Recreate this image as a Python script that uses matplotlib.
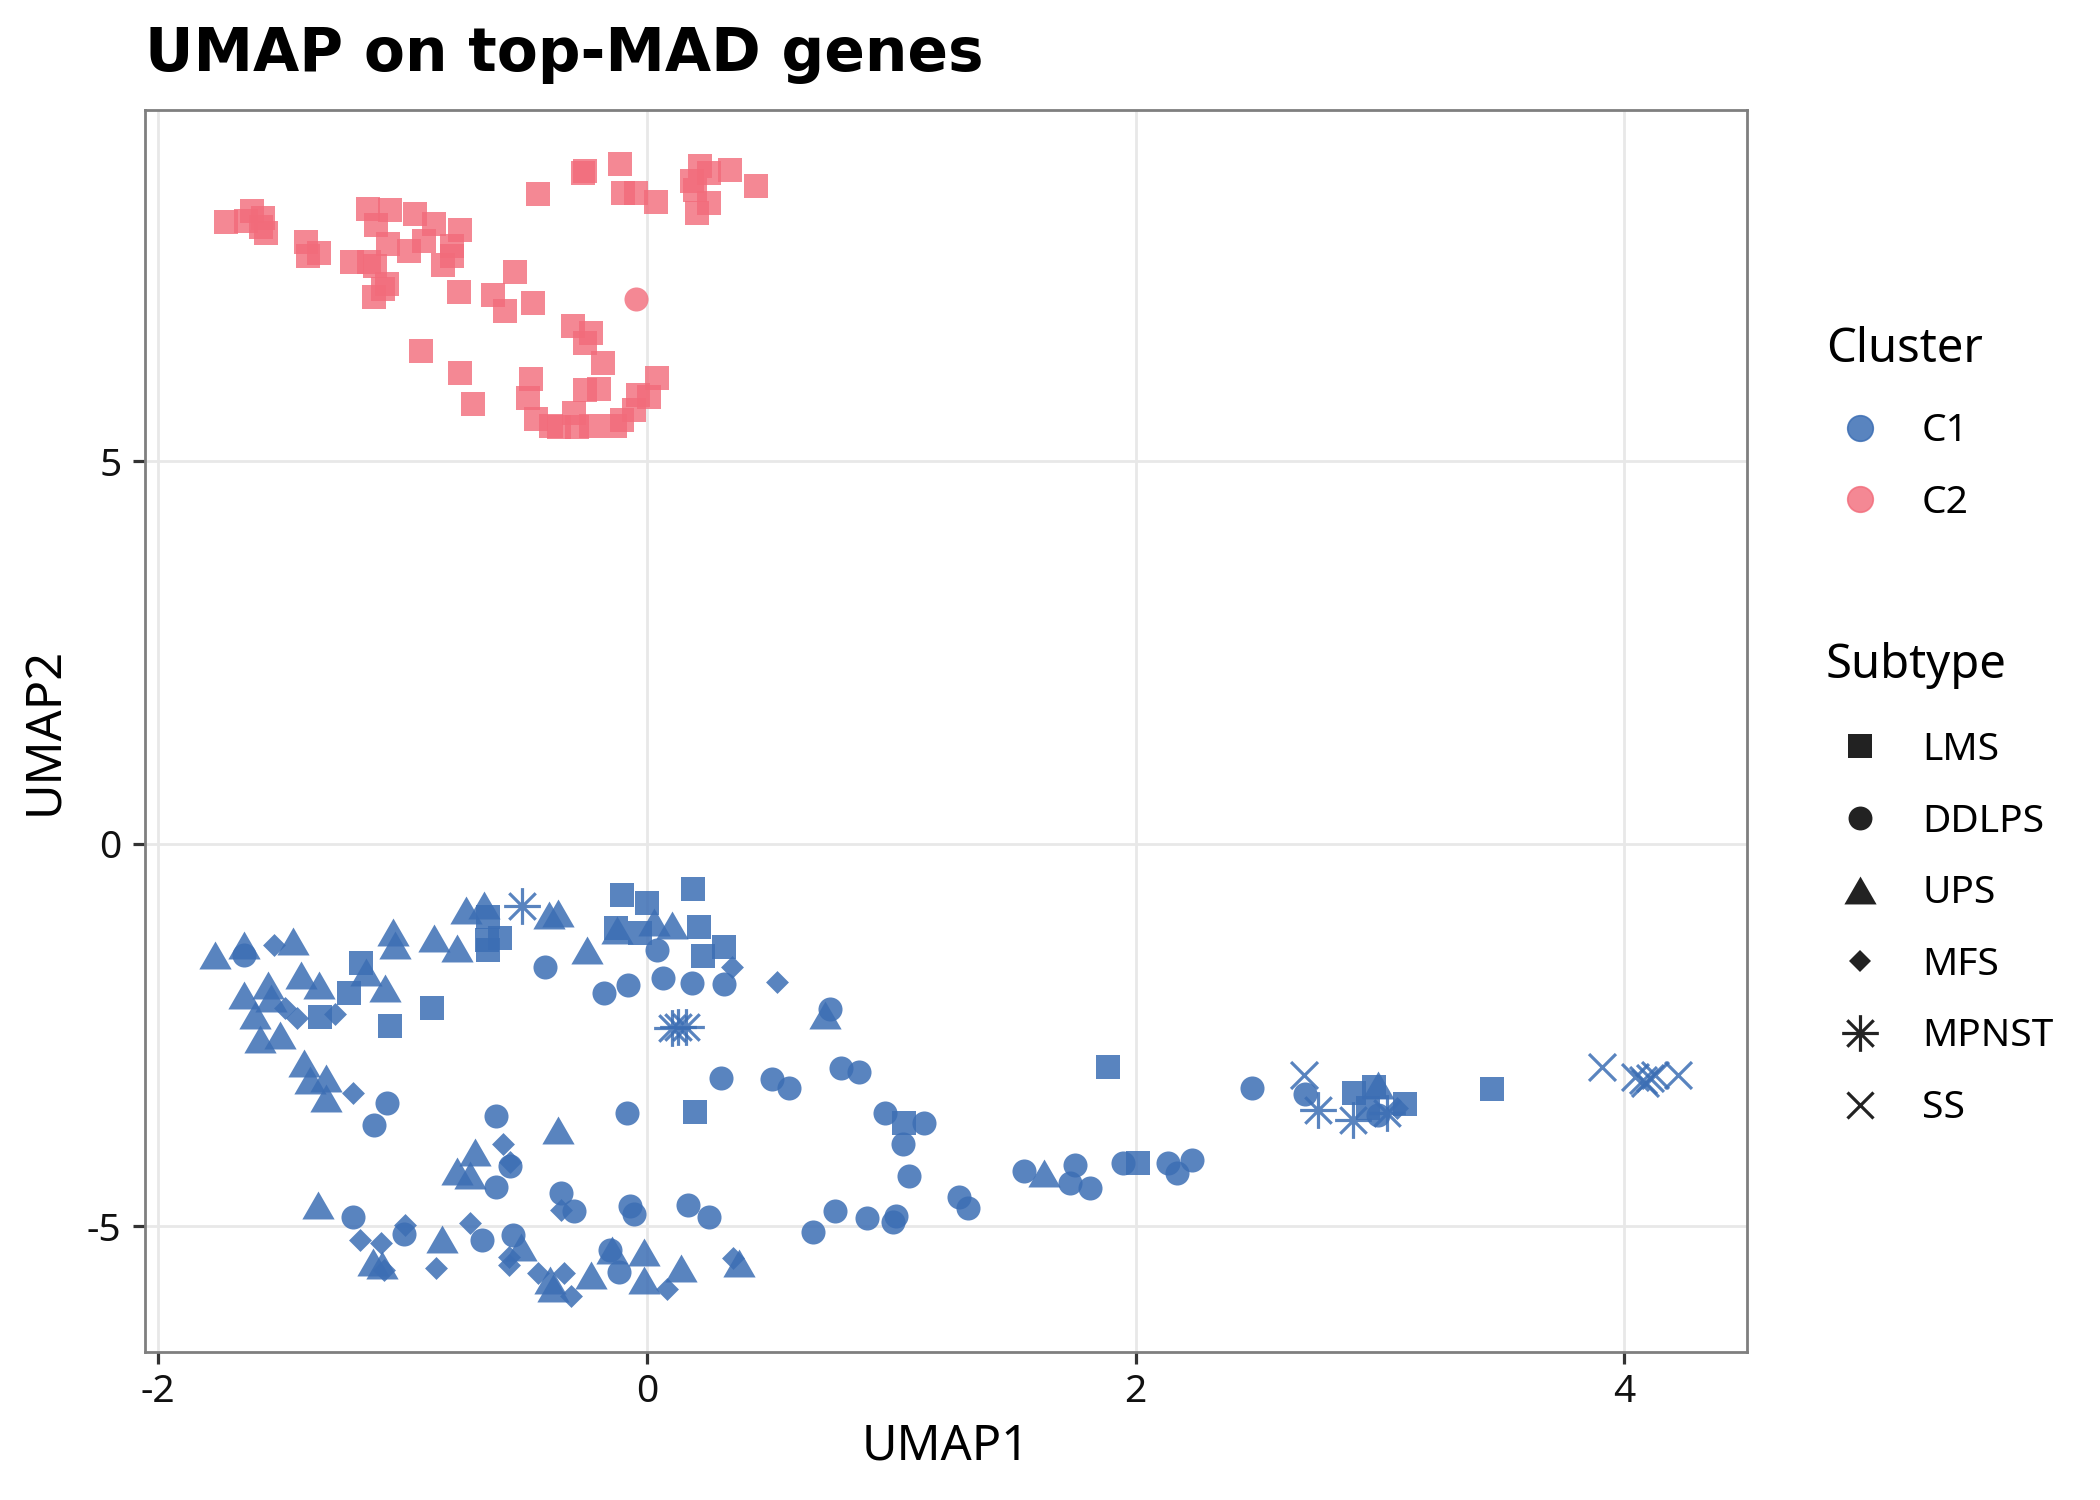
import matplotlib
matplotlib.use("Agg")
import matplotlib.pyplot as plt
from matplotlib.path import Path
from matplotlib.lines import Line2D

# ---------------- data ----------------
C2_LMS_x = [-1.722, -1.617, -1.641, -1.572, -1.579, -1.558, -1.395, -1.385, -1.340, -1.143,
            -1.050, -1.108, -1.059, -1.207, -1.136, -1.112, -1.064, -1.081, -1.117, -0.947,
            -0.869, -0.912, -0.973, -0.766, -0.797, -0.797, -0.833, -0.540, -0.769, -0.631,
            -0.580, -0.464, -0.926, -0.764, -0.712, -0.444, -0.254, -0.263, -0.109, -0.096,
            -0.046, 0.037, 0.218, 0.185, 0.254, 0.340, 0.199, 0.253, 0.204, 0.447,
            -0.301, -0.230, -0.251, -0.180, -0.473, -0.487, -0.454, -0.392, -0.359, -0.297,
            -0.285, -0.254, -0.196, -0.228, -0.130, -0.102, -0.051, -0.035, 0.009, 0.042]
C2_LMS_y = [8.124, 8.277, 8.146, 8.176, 8.066, 7.979, 7.862, 7.683, 7.727, 8.298,
            8.285, 8.089, 7.845, 7.605, 7.609, 7.557, 7.317, 7.247, 7.143, 8.237,
            8.102, 7.879, 7.753, 8.018, 7.814, 7.683, 7.566, 7.474, 7.213, 7.174,
            6.965, 7.065, 6.441, 6.154, 5.744, 8.494, 8.799, 8.772, 8.882, 8.507,
            8.507, 8.389, 8.864, 8.664, 8.764, 8.803, 8.546, 8.371, 8.249, 8.603,
            6.767, 6.676, 6.540, 6.288, 6.079, 5.824, 5.558, 5.462, 5.453, 5.627,
            5.453, 5.933, 5.950, 5.462, 5.462, 5.540, 5.671, 5.867, 5.845, 6.093]
C2_DDLPS_x = [-0.044]
C2_DDLPS_y = [7.117]

C1_LMS_x = [-0.651, -0.651, -0.602, -0.656, -0.103, 0.001, 0.187, -0.126, -0.026, 0.214,
            0.317, 0.229, -1.168, -1.217, -1.337, -1.052, -0.879, 0.198, 1.052, 1.888,
            2.010, 2.894, 2.974, 3.102, 2.953, 3.458]
C1_LMS_y = [-0.952, -1.388, -1.236, -1.258, -0.669, -0.778, -0.591, -1.105, -1.162, -1.092,
            -1.345, -1.467, -1.563, -1.955, -2.260, -2.377, -2.151, -3.501, -3.654, -2.913,
            -4.168, -3.264, -3.175, -3.402, -3.458, -3.210]

C1_DDLPS_x = [-1.649, -0.415, 0.043, 0.065, 0.184, 0.317, -0.077, -0.176, 0.751, 0.303,
              0.513, 0.582, 0.796, 0.868, -0.081, -0.617, -1.064, -1.115, 0.974, 1.135,
              1.047, 1.073, 1.543, 1.751, 1.731, 1.814, 1.947, 1.279, 1.313, 0.770,
              0.901, 1.021, 1.008, 0.681, -0.559, -0.616, -0.352, -0.300, -0.070, -0.052,
              0.167, 0.256, -1.203, -0.995, -0.676, -0.548, -0.151, -0.115, 2.134, 2.229,
              2.169, 2.477, 2.695, 2.993]
C1_DDLPS_y = [-1.454, -1.615, -1.388, -1.759, -1.815, -1.837, -1.846, -1.955, -2.159, -3.066,
              -3.079, -3.197, -2.935, -2.987, -3.515, -3.554, -3.393, -3.676, -3.523, -3.645,
              -3.924, -4.343, -4.273, -4.199, -4.438, -4.503, -4.168, -4.621, -4.765, -4.800,
              -4.896, -4.865, -4.940, -5.070, -4.212, -4.491, -4.570, -4.800, -4.735, -4.839,
              -4.722, -4.874, -4.883, -5.101, -5.179, -5.114, -5.310, -5.593, -4.177, -4.134,
              -4.299, -3.197, -3.271, -3.546]

C1_UPS_x = [-1.766, -1.649, -1.446, -1.040, -1.031, -0.870, -0.775, -0.739, -0.666, -0.401,
            -0.364, -0.121, 0.029, 0.102, -0.245, 0.729, -1.415, -1.342, -1.552, -1.649,
            -1.539, -1.602, -1.585, -1.502, -1.149, -1.073, -1.403, -1.378, -1.314, -1.314,
            -0.364, -0.702, -0.775, -0.723, -1.344, -1.120, -1.083, -0.838, -0.514, -0.397,
            -0.384, -0.227, -0.143, -0.010, -0.010, 0.138, 0.376, 1.626, 2.993]
C1_UPS_y = [-1.454, -1.323, -1.266, -1.149, -1.323, -1.236, -1.367, -0.865, -0.800, -0.931,
            -0.909, -1.127, -1.018, -1.061, -1.388, -2.238, -1.715, -1.846, -1.846, -1.977,
            -2.020, -2.238, -2.556, -2.500, -1.671, -1.889, -2.870, -3.088, -3.066, -3.327,
            -3.741, -4.024, -4.273, -4.329, -4.721, -5.462, -5.506, -5.170, -5.266, -5.702,
            -5.811, -5.636, -5.310, -5.331, -5.702, -5.549, -5.485, -4.308, -3.153]

C1_MFS_x = [-1.524, 0.350, 0.531, -1.479, -1.433, -1.278, -1.204, -0.590, -0.559, -0.352,
            -0.989, -1.172, -1.089, -1.075, -0.723, -0.566, -0.566, -0.861, -0.444, -0.337,
            -0.311, 0.081, 0.352, 3.068]
C1_MFS_y = [-1.323, -1.615, -1.802, -2.151, -2.282, -2.225, -3.253, -3.924, -4.155, -4.787,
            -4.983, -5.179, -5.222, -5.571, -4.961, -5.397, -5.506, -5.541, -5.606, -5.606,
            -5.911, -5.824, -5.419, -3.458]

C1_MPNST_x = [-0.511, 0.102, 0.129, 0.162, 2.745, 2.888, 3.027]
C1_MPNST_y = [-0.809, -2.412, -2.390, -2.399, -3.480, -3.611, -3.524]

C1_SS_x = [2.691, 3.909, 4.045, 4.075, 4.105, 4.125, 4.221, 4.085]
C1_SS_y = [-3.023, -2.913, -3.044, -3.087, -3.066, -3.023, -3.023, -3.131]

cluster_labels = ["C1", "C2"]
subtype_labels = ["LMS", "DDLPS", "UPS", "MFS", "MPNST", "SS"]
x_ticks = [-2, 0, 2, 4]
y_ticks = [-5, 0, 5]

# ---------------- styling ----------------
BASE = "Noto Sans"
C1_COL = (0.235, 0.431, 0.706, 0.85)
C2_COL = (0.949, 0.420, 0.478, 0.80)

tri = Path([(-0.5, -0.433), (0.5, -0.433), (0.0, 0.433), (-0.5, -0.433)],
           [Path.MOVETO, Path.LINETO, Path.LINETO, Path.CLOSEPOLY])
ast = Path([(-1, 0), (1, 0), (0, -1), (0, 1), (-0.72, -0.72), (0.72, 0.72),
            (-0.72, 0.72), (0.72, -0.72)],
           [Path.MOVETO, Path.LINETO] * 4)

# marker spec: (marker, scatter size, legend ms, filled)
spec = {
    "LMS": ("s", 75, 8.6, True),
    "DDLPS": ("o", 75, 8.6, True),
    "UPS": (tri, 135, 11.6, True),
    "MFS": ("D", 34, 5.85, True),
    "MPNST": (ast, 175, 13.2, False),
    "SS": ("x", 94, 9.7, False),
}

fig = plt.figure(figsize=(10.5, 7.5), dpi=200)
ax = fig.add_axes([0.069, 0.0987, 0.763, 0.828])

groups = [
    (C1_LMS_x, C1_LMS_y, C1_COL, "LMS"),
    (C1_DDLPS_x, C1_DDLPS_y, C1_COL, "DDLPS"),
    (C1_UPS_x, C1_UPS_y, C1_COL, "UPS"),
    (C1_MFS_x, C1_MFS_y, C1_COL, "MFS"),
    (C1_MPNST_x, C1_MPNST_y, C1_COL, "MPNST"),
    (C1_SS_x, C1_SS_y, C1_COL, "SS"),
    (C2_LMS_x, C2_LMS_y, C2_COL, "LMS"),
    (C2_DDLPS_x, C2_DDLPS_y, C2_COL, "DDLPS"),
]
for gx, gy, col, st in groups:
    m, s, _, filled = spec[st]
    if filled:
        ax.scatter(gx, gy, s=s, marker=m, c=[col], linewidths=0, zorder=3)
    else:
        ax.scatter(gx, gy, s=s, marker=m, c=[col], linewidths=1.15, zorder=3)

ax.set_xlim(-2.054, 4.503)
ax.set_ylim(-6.643, 9.592)
ax.set_xticks(x_ticks)
ax.set_xticklabels([str(t) for t in x_ticks])
ax.set_yticks(y_ticks)
ax.set_yticklabels([str(t) for t in y_ticks])
ax.grid(True, color="#e8e8e8", linewidth=1.0, zorder=0)
ax.set_axisbelow(True)
for sp in ax.spines.values():
    sp.set_color("#7f7f7f")
    sp.set_linewidth(1.0)
ax.tick_params(axis="both", length=4.4, width=1.15, color="#333333",
               labelsize=14, labelcolor="#111111")
ax.tick_params(axis="x", pad=3)
ax.tick_params(axis="y", pad=4)
for lab in ax.get_xticklabels() + ax.get_yticklabels():
    lab.set_family(BASE)

ax.set_xlabel("UMAP1", family=BASE, fontsize=17.5, labelpad=4)
ax.set_ylabel("UMAP2", family=BASE, fontsize=17.5, labelpad=6)
ax.set_title("UMAP on top-MAD genes", loc="left", family="DejaVu Sans",
             fontweight="bold", fontsize=21.5, pad=14)

# ---------------- legends ----------------
LS = 0.865
LEG_KW = dict(loc="upper left", frameon=False, alignment="left",
              prop={"family": BASE, "size": 14},
              title_fontproperties={"family": BASE, "size": 17},
              labelspacing=LS, handletextpad=0.72, handlelength=1.75,
              borderaxespad=0, borderpad=0)

cl_handles = [Line2D([], [], linestyle="", marker="o", markersize=9.2,
                     markerfacecolor=c, markeredgecolor=c, markeredgewidth=0.6)
              for c in (C1_COL, C2_COL)]
leg1 = fig.legend(cl_handles, cluster_labels, title="Cluster",
                  bbox_to_anchor=(0.8695, 0.7825), **LEG_KW)
leg1._legend_box.sep = 14.0

st_handles = []
for st in subtype_labels:
    m, _, ms, filled = spec[st]
    if filled:
        st_handles.append(Line2D([], [], linestyle="", marker=m, markersize=ms,
                                 markerfacecolor="#222222", markeredgewidth=0))
    else:
        st_handles.append(Line2D([], [], linestyle="", marker=m, markersize=ms,
                                 color="#222222", markeredgewidth=1.15))
leg2 = fig.legend(st_handles, subtype_labels, title="Subtype",
                  bbox_to_anchor=(0.8695, 0.5722), **LEG_KW)
leg2._legend_box.sep = 15.2

fig.savefig("out.png", dpi=200, facecolor="white")
